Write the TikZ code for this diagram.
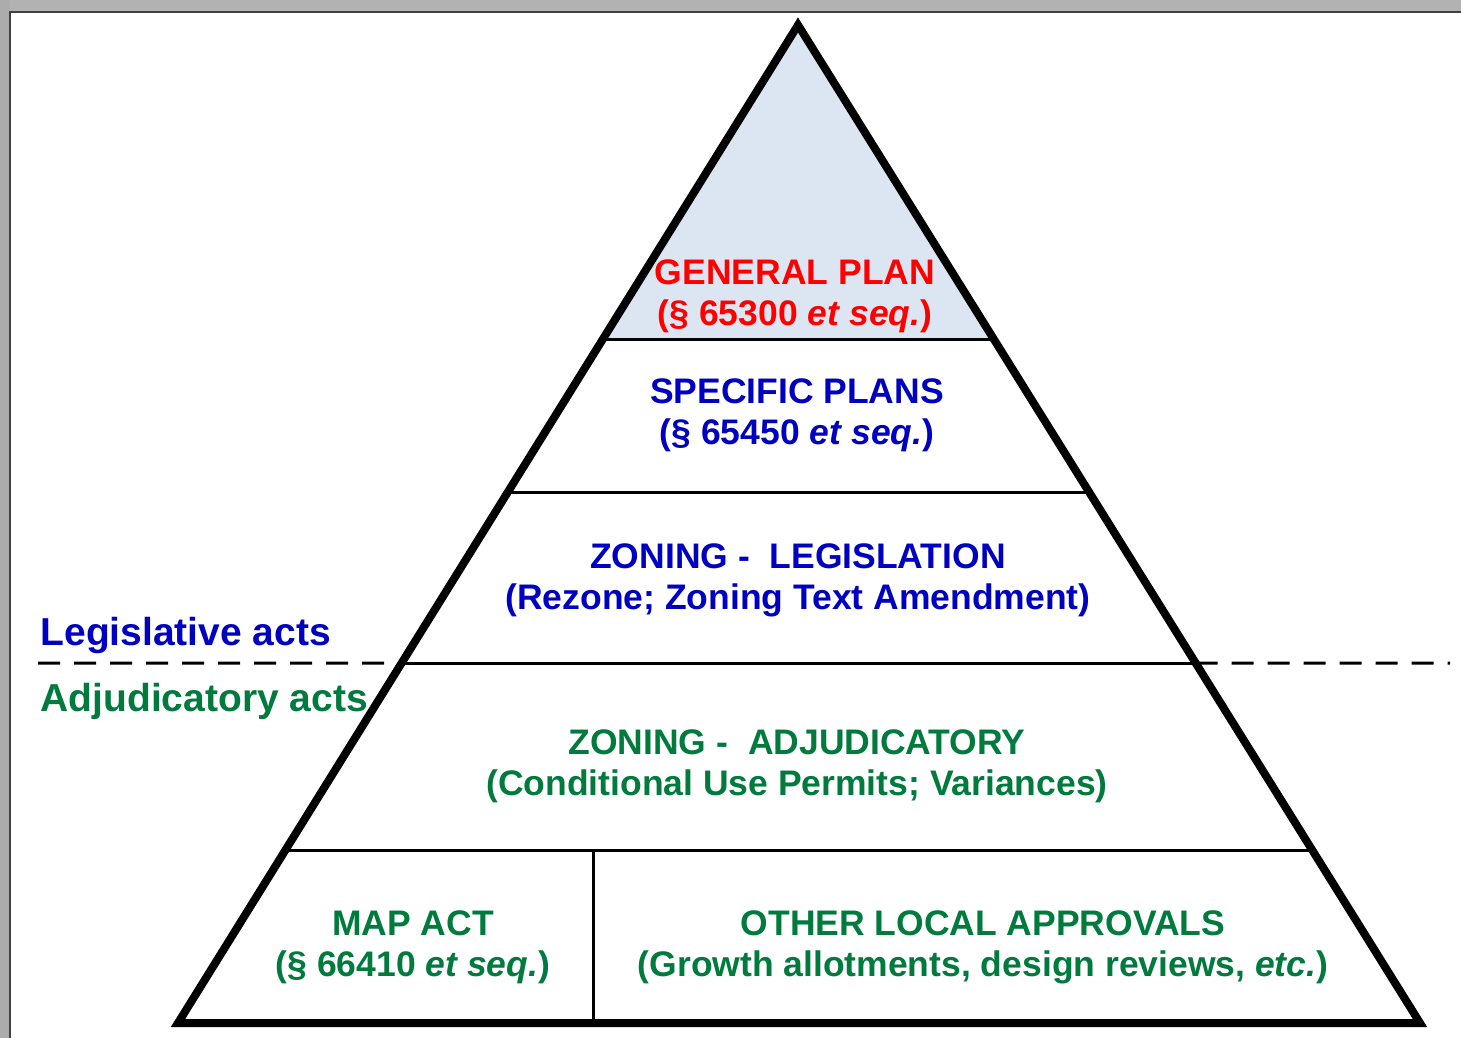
\documentclass[tikz,border=0pt]{standalone}
\usepackage{fontspec}
\setmainfont{Liberation Sans}
\usetikzlibrary{calc}
\definecolor{planred}{HTML}{FF0000}
\definecolor{legblue}{HTML}{0000C0}
\definecolor{adjgreen}{HTML}{007A3D}
\definecolor{topfill}{HTML}{DCE6F2}
\tikzset{
	tier/.style={font=\fontsize{35.5}{41}\selectfont\bfseries,text=#1,align=center},
	side/.style={font=\fontsize{39}{45}\selectfont\bfseries,text=#1,anchor=base west},
	split/.style={line width=3pt},
	border/.style={line width=8pt,line join=miter},
	actline/.style={line width=3pt,dash pattern=on 22pt off 14pt}
}

\begin{document}
\begin{tikzpicture}[x=1pt,y=-1pt]
	\useasboundingbox (0,0) rectangle (1461,1038);
	% window frame
	\fill[gray!60] (0,0) rectangle (1461,12);
	\fill[gray!65] (0,0) rectangle (10,1038);
	\draw[black!75,line width=1.5pt] (10,1038) -- (10,12) -- (1461,12);

	\coordinate (apex) at (798,25);
	\coordinate (bl) at (178,1023);
	\coordinate (br) at (1420,1023);
	\foreach \n/\t in {1/0.3156,2/0.4689,3/0.6393,4/0.8267}{
		\coordinate (l\n) at ($(apex)!\t!(bl)$);
		\coordinate (r\n) at ($(apex)!\t!(br)$);
	}

	\fill[topfill] (apex) -- (l1) -- (r1) -- cycle;
	\draw[split] (l1) -- (r1);
	\draw[split] (l2) -- (r2);
	\draw[split] (l3) -- (r3);
	\draw[split] (l4) -- (r4);
	\draw[split] (593,852) -- (593,1023);

	\draw[actline] (38,663) -- (l3);
	\draw[actline] (r3) -- (1450,663);

	\draw[border] (apex) -- (bl) -- (br) -- cycle;

	\node [tier=planred] (general) at (795,296) {GENERAL PLAN\\(§ 65300 \textit{et seq.})};
	\node [tier=legblue] (specific) at (797,415) {SPECIFIC PLANS\\(§ 65450 \textit{et seq.})};
	\node [tier=legblue] (zoneleg) at (798,580) {ZONING -\ \ LEGISLATION\\(Rezone; Zoning Text Amendment)};
	\node [tier=adjgreen] (zoneadj) at (797,766) {ZONING -\ \ ADJUDICATORY\\(Conditional Use Permits; Variances)};
	\node [tier=adjgreen] (mapact) at (413,947) {MAP ACT\\(§ 66410 \textit{et seq.})};
	\node [tier=adjgreen] (other) at (983,947) {OTHER LOCAL APPROVALS\\(Growth allotments, design reviews, \textit{etc.})};

	\node [side=legblue] (legis) at (37,645) {Legislative acts};
	\node [side=adjgreen] (adjud) at (37,711) {Adjudicatory acts};
\end{tikzpicture}
\end{document}
